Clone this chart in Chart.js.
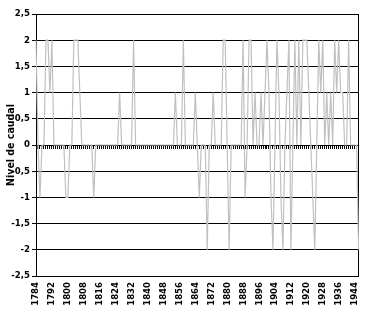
<!DOCTYPE html>
<html><head><meta charset="utf-8">
<script src="https://cdn.jsdelivr.net/npm/chart.js@4.4.0/dist/chart.umd.min.js"></script>
<style>html,body{margin:0;padding:0;background:#fff;}#wrap{width:376px;height:310px;}</style>
</head><body><div id="wrap"><canvas id="c" width="376" height="310"></canvas></div>
<script>
// Categories: one per year, 1784 .. 1946
const years = [];
for (let y = 1784; y <= 1946; y++) years.push(String(y));

// Tick labels shown on the x axis
const tickLabels = ['1784','1792','1800','1808','1816','1824','1832','1840','1848','1856',
  '1864','1872','1880','1888','1896','1904','1912','1920','1928','1936','1944'];

// Series: nivel de caudal
const caudal = [
  2, 0,-1, 0, 0, 2, 2, 1, 2, 0,   // 1784-1793
  0, 0, 0, 0, 0,-1,-1, 0, 0, 2,   // 1794-1803
  2, 2, 1, 0, 0, 0, 0, 0, 0,-1,   // 1804-1813
  0, 0, 0, 0, 0, 0, 0, 0, 0, 0,   // 1814-1823
  0, 0, 1, 0, 0, 0, 0, 0, 0, 2,   // 1824-1833
  0, 0, 0, 0, 0, 0, 0, 0, 0, 0,   // 1834-1843
  0, 0, 0, 0, 0, 0, 0, 0, 0, 0,   // 1844-1853
  1, 0, 0, 0, 2, 0, 0, 0, 0, 0,   // 1854-1863
  1, 0,-1, 0, 0, 0,-2, 0, 0, 1,   // 1864-1873
  0, 0, 0, 0, 2, 2, 0,-2, 0, 0,   // 1874-1883
  0, 0, 0, 0, 2,-1, 0, 2, 2, 0,   // 1884-1893
  1, 0, 0, 1, 0, 1, 2, 1,-1,-2,   // 1894-1903
  0, 2, 1,-1,-2, 0, 1, 2,-2, 0,   // 1904-1913
  2, 0, 2, 0, 2, 2, 2, 1, 0,-1,   // 1914-1923
 -2, 0, 2, 1, 2, 0, 1, 0, 1, 0,   // 1924-1933
  2, 1, 2, 1, 1, 0, 0, 2, 0, 0,   // 1934-1943
  0, 0,-2                          // 1944-1946
];

// Y axis range / step
const yMin = -2.5, yMax = 2.5, yStep = 0.5;

const FONT = "'Liberation Sans Narrow','Arial Narrow','DejaVu Sans Condensed',sans-serif";

new Chart(document.getElementById('c'), {
  type: 'line',
  data: {
    labels: years,
    datasets: [{
      data: caudal,
      borderColor: '#c0c0c0',
      borderWidth: 1.2,
      pointRadius: 0,
      tension: 0,
      fill: false
    }]
  },
  options: {
    responsive: false,
    animation: false,
    devicePixelRatio: 1,
    layout: { padding: { top: 14, right: 10, left: 0, bottom: 0 } },
    plugins: { legend: { display: false }, tooltip: { enabled: false } },
    scales: {
      x: {
        type: 'category', position: 'bottom', offset: false,
        grid: { display: false, drawTicks: false },
        border: { display: true, color: '#000', width: 1 },
        ticks: {
          autoSkip: false, maxRotation: 90, minRotation: 90, padding: 6,
          color: '#000', font: { family: FONT, size: 9.5, weight: 'bold' },
          callback: function (v) {
            const l = String(this.getLabelForValue(v));
            return tickLabels.includes(l) ? l : '';
          }
        },
        afterFit: s => { s.height = 34; }
      },
      x0: {
        axis: 'x', type: 'category', position: { y: 0 }, offset: false, z: 1,
        grid: { drawOnChartArea: false, drawTicks: true, tickLength: 3, color: '#000' },
        border: { display: true, color: '#000', width: 1 },
        ticks: { display: false, autoSkip: false },
        afterFit: s => { s.height = 0; }
      },
      y: {
        position: 'left', min: yMin, max: yMax,
        ticks: {
          stepSize: yStep, color: '#000', padding: 2,
          font: { family: FONT, size: 9.5, weight: 'bold' },
          callback: v => String(v).replace('.', ',')
        },
        grid: { color: '#000', lineWidth: 1, tickLength: 4, drawTicks: true },
        border: { display: true, color: '#000', width: 1 },
        title: {
          display: true, text: 'Nivel de caudal', color: '#000',
          font: { family: FONT, size: 10.5, weight: 'bold' },
          padding: { top: 5, bottom: 0 }
        },
        afterFit: s => { s.width = 36; }
      },
      yR: {
        axis: 'y', position: 'right', min: yMin, max: yMax,
        grid: { display: false, drawTicks: false },
        border: { display: true, color: '#000', width: 1 },
        ticks: { display: false },
        afterFit: s => { s.width = 0; }
      }
    }
  }
});
</script>
</body></html>
